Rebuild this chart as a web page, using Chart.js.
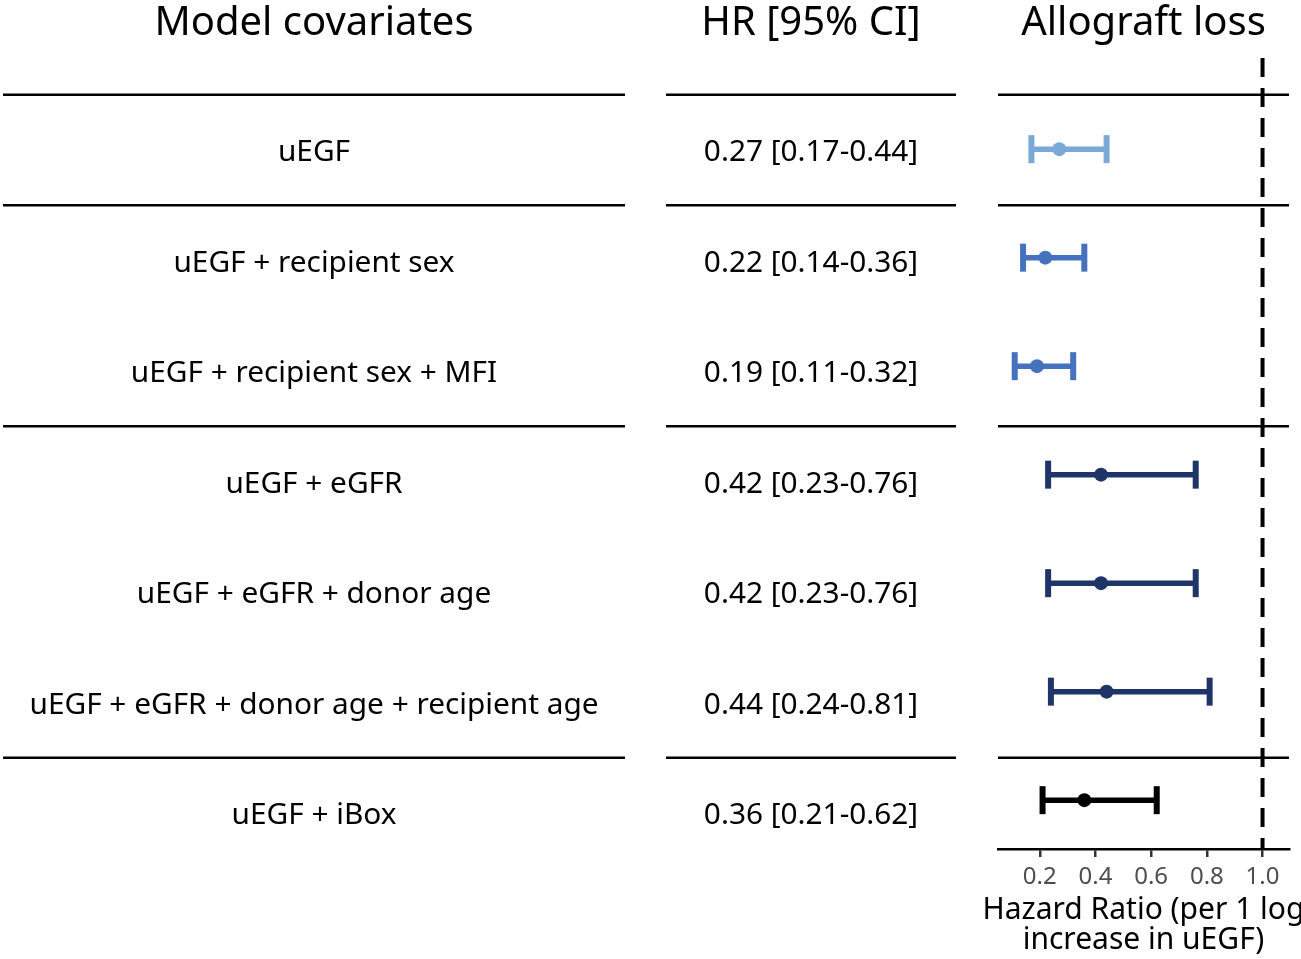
<!DOCTYPE html>
<html>
<head>
<meta charset="utf-8">
<script src="https://cdn.jsdelivr.net/npm/chart.js@4"></script>
<style>
html,body{margin:0;padding:0;background:#fff;}
#wrap{position:relative;width:1301px;height:959px;}
</style>
</head>
<body>
<div id="wrap"><canvas id="c" width="1301" height="959"></canvas></div>
<script>
// ---- data ----
const models = [
  "uEGF",
  "uEGF + recipient sex",
  "uEGF + recipient sex + MFI",
  "uEGF + eGFR",
  "uEGF + eGFR + donor age",
  "uEGF + eGFR + donor age + recipient age",
  "uEGF + iBox"
];
const hr    = [0.27, 0.22, 0.19, 0.42, 0.42, 0.44, 0.36];
const ciLow = [0.17, 0.14, 0.11, 0.23, 0.23, 0.24, 0.21];
const ciHigh= [0.44, 0.36, 0.32, 0.76, 0.76, 0.81, 0.62];
const rowColors = ["#7BA9D6", "#4472BE", "#4472BE", "#1F3467", "#1F3467", "#1F3467", "#000000"];
const groupBreaks = [0.5, 1.5, 3.5, 6.5];   // boundaries between model groups (row units)
const xTicks = [0.2, 0.4, 0.6, 0.8, 1.0];
const refValue = 1.0;
const headers = ["Model covariates", "HR [95% CI]", "Allograft loss"];
const xTitle = ["Hazard Ratio (per 1 log", "increase in uEGF)"];

// ---- layout ----
const FONT = "'Noto Sans', 'Open Sans', sans-serif";
const Y_MIN = 0.16, Y_MAX = 7.45;
const tableRow0 = 150, tableRowH = 110.5;
const tableY = i => tableRow0 + (i - 1) * tableRowH;
const colLeft = {x0: 3, x1: 625, cx: 314};
const colMid  = {x0: 666, x1: 956, cx: 811};

const datasets = [];
models.forEach((m, i) => {
  const row = i + 1;
  datasets.push({
    type: 'line',
    data: [{x: ciLow[i], y: row}, {x: ciHigh[i], y: row}],
    borderColor: rowColors[i],
    backgroundColor: rowColors[i],
    borderWidth: 5.5,
    showLine: true,
    pointStyle: 'line',
    rotation: 90,
    pointRadius: 14,
    pointBorderWidth: 6,
    pointBorderColor: rowColors[i],
    borderCapStyle: 'butt',
    order: 2
  });
  datasets.push({
    type: 'scatter',
    data: [{x: hr[i], y: row}],
    backgroundColor: rowColors[i],
    borderColor: rowColors[i],
    pointRadius: 7,
    pointBorderWidth: 0,
    order: 1
  });
});
datasets.push({
  type: 'line',
  data: [{x: refValue, y: Y_MIN}, {x: refValue, y: Y_MAX}],
  borderColor: '#000',
  borderWidth: 4,
  borderDash: [19, 11],
  pointRadius: 0,
  showLine: true,
  order: 0
});

const tablePlugin = {
  id: 'tablePlugin',
  beforeDatasetsDraw(chart) {
    const ctx = chart.ctx;
    const ca = chart.chartArea;
    ctx.save();
    ctx.strokeStyle = '#000';
    ctx.lineWidth = 2.5;
    groupBreaks.forEach(b => {
      const y = tableY(b);
      [[colLeft.x0, colLeft.x1], [colMid.x0, colMid.x1], [ca.left, ca.right]].forEach(([a, c]) => {
        ctx.beginPath(); ctx.moveTo(a, y); ctx.lineTo(c, y); ctx.stroke();
      });
    });
    ctx.restore();
  },
  afterDraw(chart) {
    const ctx = chart.ctx;
    const ca = chart.chartArea;
    const xs = chart.scales.x;
    const cx = (ca.left + ca.right) / 2;
    ctx.save();
    ctx.fillStyle = '#000';
    ctx.textAlign = 'center';
    ctx.textBaseline = 'alphabetic';
    ctx.font = "40px " + FONT;
    ctx.fillText(headers[0], colLeft.cx, 35);
    ctx.fillText(headers[1], colMid.cx, 35);
    ctx.fillText(headers[2], cx, 35);
    ctx.font = "29.8px " + FONT;
    models.forEach((m, i) => {
      const y = tableY(i + 1) + 11;
      ctx.fillText(m, colLeft.cx, y);
      ctx.fillText(hr[i].toFixed(2) + " [" + ciLow[i].toFixed(2) + "-" + ciHigh[i].toFixed(2) + "]", colMid.cx, y);
    });
    // axis title (drawn without width squeezing)
    ctx.textBaseline = 'middle';
    ctx.font = "30px " + FONT;
    ctx.fillText(xTitle[0], cx, xs.bottom - 49);
    ctx.fillText(xTitle[1], cx, xs.bottom - 19);
    ctx.restore();
  }
};

new Chart(document.getElementById('c'), {
  data: {datasets},
  options: {
    responsive: false,
    animation: false,
    devicePixelRatio: 1,
    layout: {autoPadding: false, padding: {left: 998, right: 12, top: 58, bottom: 0}},
    plugins: {legend: {display: false}, tooltip: {enabled: false}},
    scales: {
      x: {
        type: 'linear',
        min: 0.05,
        max: 1.095,
        afterBuildTicks: axis => { axis.ticks = xTicks.map(v => ({value: v})); },
        afterFit: axis => { axis.height = 110; axis.paddingLeft = 0; axis.paddingRight = 0; },
        ticks: {
          callback: v => Number(v).toFixed(1),
          font: {family: FONT, size: 24},
          color: '#4D4D4D',
          padding: 6,
          maxRotation: 0,
          autoSkip: false
        },
        grid: {drawOnChartArea: false, color: '#333', lineWidth: 2.5, tickLength: 8},
        border: {display: true, color: '#000', width: 2.5},
        title: {display: false}
      },
      y: {
        type: 'linear',
        display: false,
        reverse: true,
        min: Y_MIN,
        max: Y_MAX
      }
    }
  },
  plugins: [tablePlugin]
});
</script>
</body>
</html>
